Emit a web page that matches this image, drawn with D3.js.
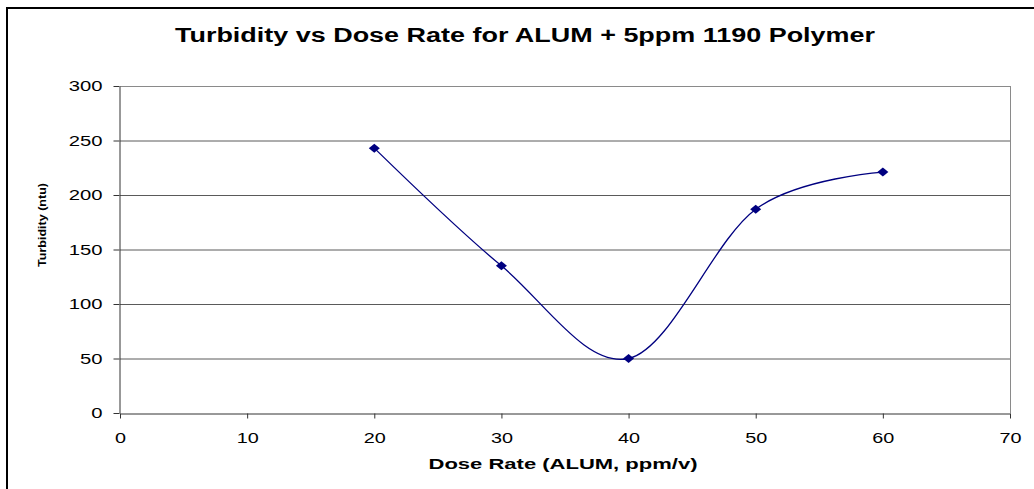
<!DOCTYPE html>
<html>
<head>
<meta charset="utf-8">
<script src="https://cdn.jsdelivr.net/npm/d3@7"></script>
<style>
  body { margin: 0; background: #fff; }
  text { font-family: Arial, "Liberation Sans", sans-serif; }
</style>
</head>
<body>
<div class="chart"></div>
<script>
const doseRate = [20, 30, 40, 50, 60];
const turbidity = [243, 135, 50, 187, 221];
const xTicks = [0, 10, 20, 30, 40, 50, 60, 70];
const yTicks = [0, 50, 100, 150, 200, 250, 300];

const data = doseRate.map((d, i) => ({dose: d, turb: turbidity[i]}));

const W = 1034, H = 489;
const margin = ({top: 86, right: 24, bottom: 76, left: 120});
const width = W - margin.left - margin.right;
const height = H - margin.top - margin.bottom;

const root = d3.select('.chart').append('svg')
    .attr("width", W)
    .attr("height", H);

// outer chart border (right/bottom run off the page)
root.append("path")
    .attr("d", `M7,${H + 5}V8H${W + 5}`)
    .attr("fill", "none")
    .attr("stroke", "#000")
    .attr("stroke-width", 2);

const svg = root.append("g")
    .attr("transform", `translate(${margin.left},${margin.top})`);

const xScale = d3.scaleLinear().domain([0, 70]).range([0, width]);
const yScale = d3.scaleLinear().domain([0, 300]).range([height, 0]);

// the original text is drawn wide, so stretch it horizontally
function stretch(sel, k) {
  sel.each(function() {
    const len = this.getComputedTextLength();
    d3.select(this)
      .attr("textLength", len * k)
      .attr("lengthAdjust", "spacingAndGlyphs");
  });
}

// gridlines
svg.append("g")
    .selectAll("line")
    .data(yTicks.filter(d => d > 0))
    .join("line")
    .attr("x1", 0)
    .attr("x2", width)
    .attr("y1", d => yScale(d) + 0.5)
    .attr("y2", d => yScale(d) + 0.5)
    .attr("stroke", d => d === 300 ? "#8a8a8a" : "#5a5a5a")
    .attr("stroke-width", 1);

// right border of plot area
svg.append("line")
    .attr("x1", width + 0.5).attr("x2", width + 0.5)
    .attr("y1", 0).attr("y2", height)
    .attr("stroke", "#8a8a8a");

const xAxis = d3.axisBottom(xScale).tickValues(xTicks).tickSize(5).tickSizeOuter(0).tickPadding(14);
const yAxis = d3.axisLeft(yScale).tickValues(yTicks).tickSize(6).tickSizeOuter(0).tickPadding(11);

svg.append("g")
    .attr("class", "axis x-axis")
    .attr("transform", `translate(0,${height + 0.5})`)
    .call(xAxis)
    .call(g => g.selectAll("text").attr("font-size", "15px").attr("fill", "#000").call(stretch, 1.32))
    .call(g => g.selectAll("line,path").attr("stroke", "#333"));

svg.append("g")
    .attr("class", "axis y-axis")
    .attr("transform", "translate(-0.5,0)")
    .call(yAxis)
    .call(g => g.selectAll("text").attr("font-size", "15px").attr("fill", "#000").call(stretch, 1.35))
    .call(g => g.selectAll("line,path").attr("stroke", "#333"));

const line = d3.line()
    .curve(d3.curveCatmullRom.alpha(0))
    .x(d => xScale(d.dose))
    .y(d => yScale(d.turb));

svg.append("path")
    .datum(data)
    .attr("fill", "none")
    .attr("stroke", "#000080")
    .attr("stroke-width", 1.3)
    .attr("d", line);

svg.append("g")
    .selectAll("path")
    .data(data)
    .join("path")
    .attr("transform", d => `translate(${xScale(d.dose)},${yScale(d.turb)})`)
    .attr("d", "M0,-4.5L5.5,0L0,4.5L-5.5,0Z")
    .attr("fill", "#000080");

// title
root.append("text")
    .attr("x", 525)
    .attr("y", 42)
    .attr("text-anchor", "middle")
    .attr("font-size", "19.5px")
    .attr("font-weight", "bold")
    .attr("textLength", 700)
    .attr("lengthAdjust", "spacingAndGlyphs")
    .text("Turbidity vs Dose Rate for ALUM + 5ppm 1190 Polymer");

root.append("text")
    .attr("x", 563)
    .attr("y", 469)
    .attr("text-anchor", "middle")
    .attr("font-size", "15px")
    .attr("font-weight", "bold")
    .attr("textLength", 269)
    .attr("lengthAdjust", "spacingAndGlyphs")
    .text("Dose Rate (ALUM, ppm/v)");

root.append("text")
    .attr("transform", "translate(46,225) rotate(-90)")
    .attr("text-anchor", "middle")
    .attr("font-size", "11px")
    .attr("font-weight", "bold")
    .attr("textLength", 84)
    .attr("lengthAdjust", "spacingAndGlyphs")
    .text("Turbidity (ntu)");
</script>
</body>
</html>
